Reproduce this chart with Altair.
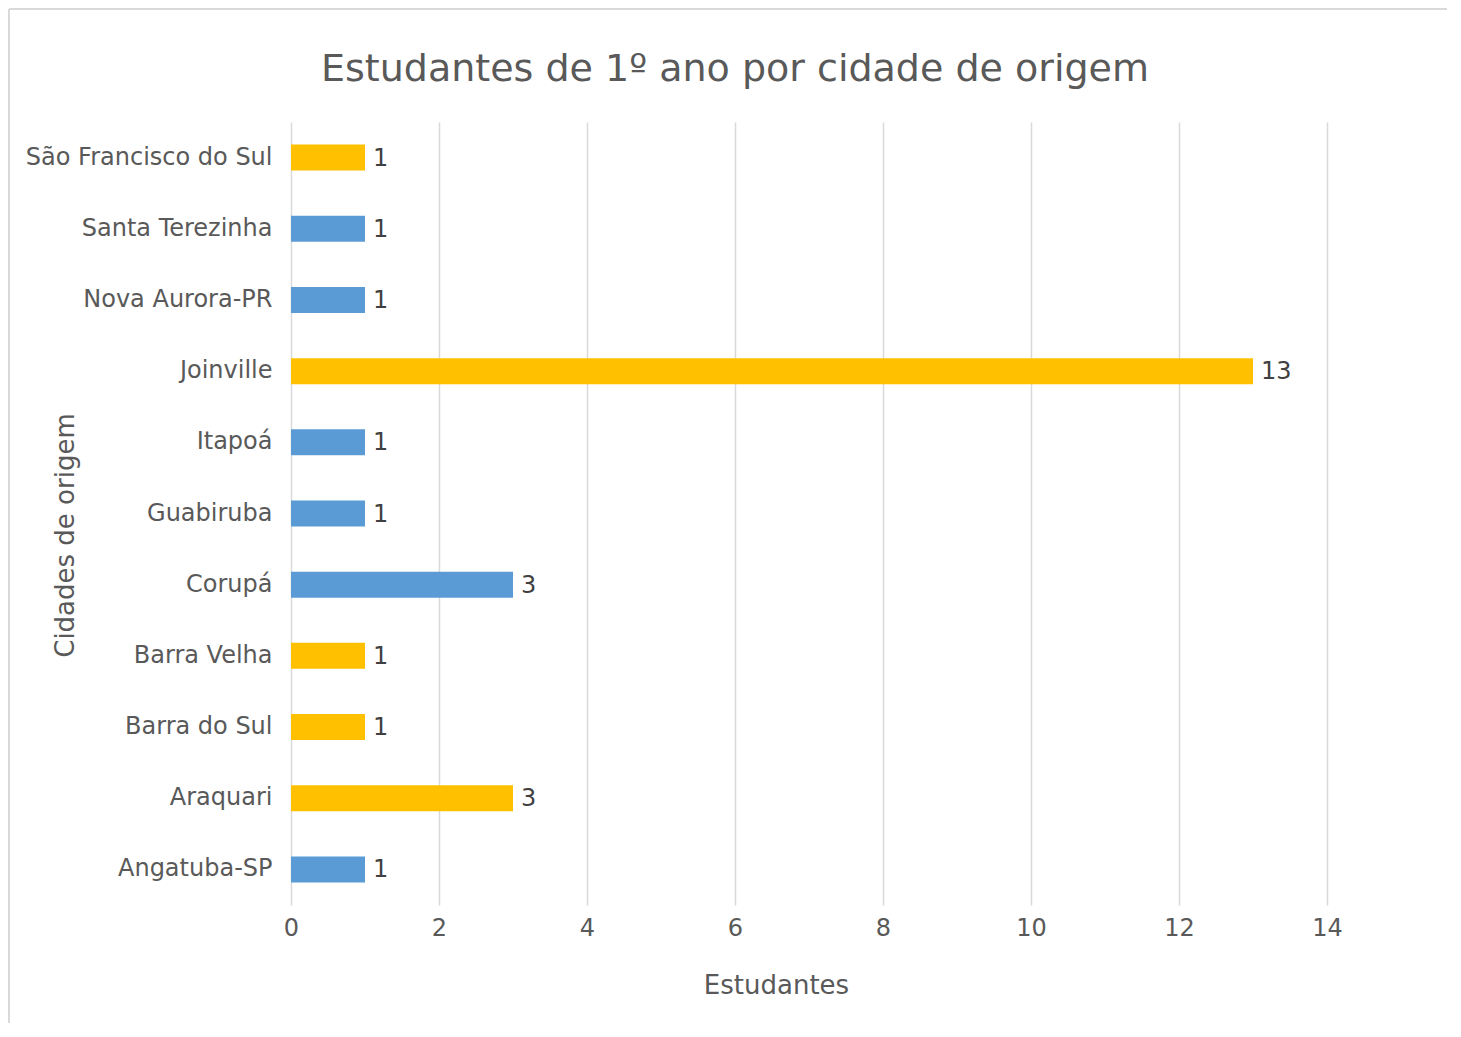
import altair as alt
import pandas as pd

cidades = ["São Francisco do Sul", "Santa Terezinha", "Nova Aurora-PR", "Joinville",
           "Itapoá", "Guabiruba", "Corupá", "Barra Velha", "Barra do Sul",
           "Araquari", "Angatuba-SP"]
estudantes = [1, 1, 1, 13, 1, 1, 3, 1, 1, 3, 1]
grupo = ["A", "B", "B", "A", "B", "B", "B", "A", "A", "A", "B"]
x_ticks = [0, 2, 4, 6, 8, 10, 12, 14]

df = pd.DataFrame({"cidade": cidades, "estudantes": estudantes, "grupo": grupo})

W, H = 1036, 783
PL, PT, PR, PB = 283, 114, 120, 118
FONT = "DejaVu Sans"

y_enc = alt.Y("cidade:N", sort=cidades,
              axis=alt.Axis(title="Cidades de origem", labelFontSize=24, labelColor="#595959",
                            labelFont=FONT, labelPadding=19, labelLimit=0, ticks=False,
                            domain=False, grid=False, titleFontSize=26, titleFont=FONT,
                            titleColor="#595959", titleFontWeight="normal", titleX=-226,
                            titleY=413, titleAngle=270, titleAlign="center",
                            titleBaseline="middle"))
x_enc = alt.X("estudantes:Q", scale=alt.Scale(domain=[0, 14], nice=False),
              axis=alt.Axis(title="Estudantes", values=x_ticks, format="d", labelFontSize=24,
                            labelColor="#595959", labelFont=FONT, labelPadding=11,
                            labelFlush=False, ticks=False, domain=False, grid=True,
                            gridColor="#d9d9d9", gridWidth=1.5, titleFontSize=26,
                            titleFont=FONT, titleColor="#595959", titleFontWeight="normal",
                            titleX=485, titleY=80, titleAlign="center",
                            titleBaseline="middle"))

bars = alt.Chart(df).mark_bar(size=26).encode(
    x=x_enc,
    y=y_enc,
    color=alt.Color("grupo:N", scale=alt.Scale(domain=["A", "B"], range=["#FFC000", "#5B9BD5"]),
                    legend=None),
)

labels = alt.Chart(df).mark_text(align="left", baseline="middle", dx=8, dy=1, fontSize=24,
                                 font=FONT, color="#404040").encode(
    x="estudantes:Q",
    y=alt.Y("cidade:N", sort=cidades),
    text="estudantes:Q",
)

border_df = pd.DataFrame({"k": [0]})
left_line = alt.Chart(border_df).mark_rule(color="#d9d9d9", strokeWidth=2).encode(
    x=alt.value(-PL + 1), y=alt.value(-PT + 1), y2=alt.value(H + PB))
top_line = alt.Chart(border_df).mark_rule(color="#d9d9d9", strokeWidth=2).encode(
    x=alt.value(-PL + 1), x2=alt.value(W + PR), y=alt.value(-PT + 1))

chart = alt.layer(left_line, top_line, bars, labels).properties(
    width=W, height=H,
    title=alt.TitleParams("Estudantes de 1º ano por cidade de origem", fontSize=38,
                          font=FONT, color="#595959", fontWeight="normal",
                          anchor="middle", frame="group", dx=-74, dy=111, offset=0,
                          baseline="alphabetic"),
    autosize=alt.AutoSizeParams(type="none"),
    padding={"left": PL, "top": PT, "right": PR, "bottom": PB},
).configure_view(stroke=None)

chart.save("out.html", embed_options={"renderer": "svg", "actions": False})
